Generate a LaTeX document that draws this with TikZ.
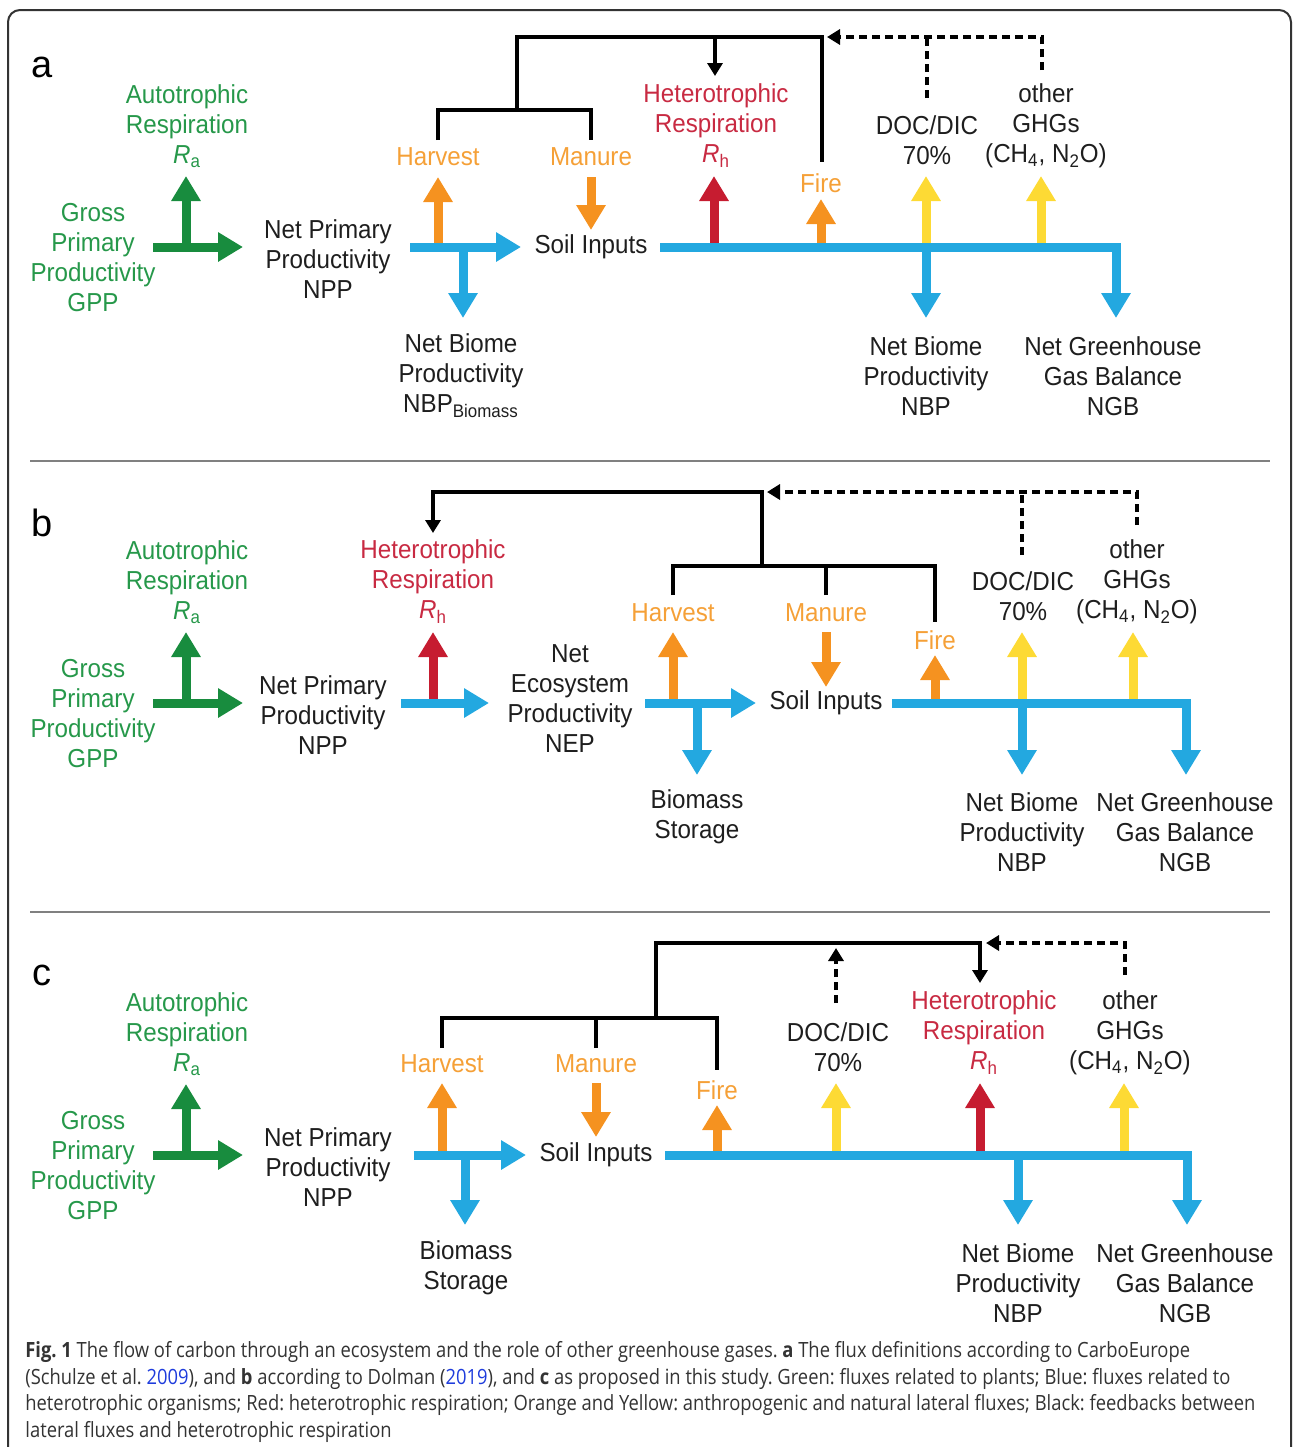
\documentclass[tikz,border=0pt]{standalone}
\usepackage{fontspec}
\setmainfont{Liberation Sans}
\newfontfamily\diagfont[FakeStretch=0.93]{Liberation Sans}
\newfontfamily\capfont[FakeStretch=0.875]{Open Sans}
\usetikzlibrary{arrows.meta}
\frenchspacing
\definecolor{plantgreen}{RGB}{24,140,62}
\definecolor{planttext}{RGB}{38,152,74}
\definecolor{fluxblue}{RGB}{35,168,224}
\definecolor{rhred}{RGB}{198,28,48}
\definecolor{rhtext}{RGB}{200,42,66}
\definecolor{latorange}{RGB}{245,146,32}
\definecolor{orangetext}{RGB}{245,160,55}
\definecolor{latyellow}{RGB}{253,218,52}
\definecolor{linkblue}{RGB}{30,60,220}
\definecolor{inktext}{RGB}{30,30,30}

\begin{document}
\begin{tikzpicture}[x=0.5pt,y=-0.5pt,
  lbl/.style={font=\diagfont\fontsize{13}{15}\selectfont, align=center, inner sep=0pt, text=inktext},
  flow/.style={line width=4.5pt, -{Triangle[length=12.5pt,width=14pt]}},
  fb/.style={line width=2pt, black},
  fbtip/.style={-{Triangle[length=6.5pt,width=7.5pt]}},
  fbdash/.style={dash pattern=on 4pt off 2.5pt},
  captext/.style={font=\capfont\fontsize{10.5}{12}\selectfont, text=black!80, inner sep=0pt, anchor=base west}]
\useasboundingbox (0,0) rectangle (1293,1447);
% Frame and separators
\draw[line width=1pt, black!80, rounded corners=6pt] (8,1447) -- (8,10) -- (1291,10) -- (1291,1447);
\draw[line width=1pt, black!50] (30,461) -- (1270,461);
\draw[line width=1pt, black!50] (30,912) -- (1270,912);
% Plant part, same in every panel
\foreach \p/\oy/\nx in {a/0/328,b/456/323,c/908/328} {
  \node[font=\fontsize{19}{21}\selectfont, inner sep=0pt] (\p-tag) at (42,67+\oy) {\p};
  \path (153,247+\oy) coordinate (\p-g0) (243,247+\oy) coordinate (\p-g1)
        (186,247+\oy) coordinate (\p-gc) (186,176+\oy) coordinate (\p-g2);
  \draw[flow,plantgreen] (\p-gc) -- (\p-g2);
  \draw[flow,plantgreen] (\p-g0) -- (\p-g1);
  \node[lbl,text=planttext] (\p-ra) at (187,126+\oy) {Autotrophic\\Respiration\\\textit{R}\textsubscript{a}};
  \node[lbl,text=planttext] (\p-gpp) at (93,258+\oy) {Gross\\Primary\\Productivity\\GPP};
  \node[lbl] (\p-npp) at (\nx,259+\oy) {Net Primary\\Productivity\\NPP};
}

% ---------- panel a ----------
\foreach \n/\x/\y/\c in {hv/438/177/latorange, rh/714/176/rhred, fi/821/199/latorange, doc/926/176/latyellow, gh/1041/176/latyellow} {
  \path (\x,247) coordinate (a-\n0) (\x,\y) coordinate (a-\n1);
  \draw[flow,\c] (a-\n0) -- (a-\n1);
}
\path (591,177) coordinate (a-ma0) (591,230) coordinate (a-ma1);
\draw[flow,latorange] (a-ma0) -- (a-ma1);
\path (410,247) coordinate (a-n0) (521,247) coordinate (a-n1)
      (463,247) coordinate (a-bm0) (463,318) coordinate (a-bm1)
      (660,247) coordinate (a-s0) (1116,247) coordinate (a-s1) (1116,318) coordinate (a-ngb)
      (926,247) coordinate (a-nbp0) (926,318) coordinate (a-nbp1);
\draw[flow,fluxblue] (a-n0) -- (a-n1);
\draw[flow,fluxblue] (a-bm0) -- (a-bm1);
\draw[flow,fluxblue] (a-s0) -- (a-s1) -- (a-ngb);
\draw[flow,fluxblue] (a-nbp0) -- (a-nbp1);
\node[lbl,text=orangetext] (a-hvl) at (438,157) {Harvest};
\node[lbl,text=orangetext] (a-mal) at (591,157) {Manure};
\node[lbl] (a-soil) at (591,247) {Soil Inputs};
\node[lbl,text=rhtext] (a-rhl) at (716,126) {Heterotrophic\\Respiration\\\textit{R}\textsubscript{h}};
\node[lbl,text=orangetext] (a-fil) at (821,183) {Fire};
\node[lbl] (a-docl) at (927,140) {DOC/DIC\\70\%};
\node[lbl] (a-ghl) at (1046,126) {other\\GHGs\\(CH\textsubscript{4}, N\textsubscript{2}O)};
\node[lbl] (a-nbpb) at (461,376) {Net Biome\\Productivity\\NBP\textsubscript{Biomass}};
\node[lbl] (a-nbpl) at (926,376) {Net Biome\\Productivity\\NBP};
\node[lbl] (a-ngbl) at (1113,376) {Net Greenhouse\\Gas Balance\\NGB};
% feedbacks
\path (438,140) coordinate (a-k1) (591,140) coordinate (a-k2) (517,110) coordinate (a-km)
      (517,37) coordinate (a-top) (822,162) coordinate (a-kf) (715,76) coordinate (a-kr)
      (1042,70) coordinate (a-kg) (927,98) coordinate (a-kd) (827,37) coordinate (a-dtip);
\draw[fb] (a-k1) -- (a-k1 |- a-km) -- (a-k2 |- a-km) -- (a-k2);
\draw[fb] (a-km) -- (a-top) -- (a-kf |- a-top) -- (a-kf);
\draw[fb,fbtip] (a-kr |- a-top) -- (a-kr);
\draw[fb,fbdash,fbtip] (a-kg) |- (a-dtip);
\draw[fb,fbdash] (a-kd) -- (a-kd |- a-dtip);

% ---------- panel b ----------
\foreach \n/\x/\y/\c in {rh/433/632/rhred, hv/673/632/latorange, fi/935/655/latorange, doc/1022/632/latyellow, gh/1133/632/latyellow} {
  \path (\x,703) coordinate (b-\n0) (\x,\y) coordinate (b-\n1);
  \draw[flow,\c] (b-\n0) -- (b-\n1);
}
\path (826,632) coordinate (b-ma0) (826,687) coordinate (b-ma1);
\draw[flow,latorange] (b-ma0) -- (b-ma1);
\path (401,703) coordinate (b-n0) (489,703) coordinate (b-n1)
      (645,703) coordinate (b-e0) (756,703) coordinate (b-e1)
      (697,703) coordinate (b-bm0) (697,775) coordinate (b-bm1)
      (892,703) coordinate (b-s0) (1186,703) coordinate (b-s1) (1186,775) coordinate (b-ngb)
      (1022,703) coordinate (b-nbp0) (1022,775) coordinate (b-nbp1);
\draw[flow,fluxblue] (b-n0) -- (b-n1);
\draw[flow,fluxblue] (b-e0) -- (b-e1);
\draw[flow,fluxblue] (b-bm0) -- (b-bm1);
\draw[flow,fluxblue] (b-s0) -- (b-s1) -- (b-ngb);
\draw[flow,fluxblue] (b-nbp0) -- (b-nbp1);
\node[lbl,text=rhtext] (b-rhl) at (433,582) {Heterotrophic\\Respiration\\\textit{R}\textsubscript{h}};
\node[lbl] (b-nep) at (570,699) {Net\\Ecosystem\\Productivity\\NEP};
\node[lbl,text=orangetext] (b-hvl) at (673,613) {Harvest};
\node[lbl,text=orangetext] (b-mal) at (826,613) {Manure};
\node[lbl] (b-soil) at (826,703) {Soil Inputs};
\node[lbl,text=orangetext] (b-fil) at (935,640) {Fire};
\node[lbl] (b-docl) at (1023,596) {DOC/DIC\\70\%};
\node[lbl] (b-ghl) at (1137,582) {other\\GHGs\\(CH\textsubscript{4}, N\textsubscript{2}O)};
\node[lbl] (b-bms) at (697,817) {Biomass\\Storage};
\node[lbl] (b-nbpl) at (1022,832) {Net Biome\\Productivity\\NBP};
\node[lbl] (b-ngbl) at (1185,832) {Net Greenhouse\\Gas Balance\\NGB};
% feedbacks
\path (673,595) coordinate (b-k1) (826,595) coordinate (b-k2) (762,566) coordinate (b-km)
      (762,492) coordinate (b-top) (935,622) coordinate (b-kf) (433,533) coordinate (b-kr)
      (1137,525) coordinate (b-kg) (1022,555) coordinate (b-kd) (767,492) coordinate (b-dtip);
\draw[fb] (b-k1) -- (b-k1 |- b-km) -- (b-kf |- b-km) -- (b-kf);
\draw[fb] (b-k2) -- (b-k2 |- b-km);
\draw[fb,fbtip] (b-km) -- (b-top) -- (b-kr |- b-top) -- (b-kr);
\draw[fb,fbdash,fbtip] (b-kg) |- (b-dtip);
\draw[fb,fbdash] (b-kd) -- (b-kd |- b-dtip);

% ---------- panel c ----------
\foreach \n/\x/\y/\c in {hv/442/1083/latorange, fi/717/1105/latorange, doc/836/1083/latyellow, rh/980/1083/rhred, gh/1124/1083/latyellow} {
  \path (\x,1155) coordinate (c-\n0) (\x,\y) coordinate (c-\n1);
  \draw[flow,\c] (c-\n0) -- (c-\n1);
}
\path (596,1083) coordinate (c-ma0) (596,1137) coordinate (c-ma1);
\draw[flow,latorange] (c-ma0) -- (c-ma1);
\path (414,1155) coordinate (c-n0) (526,1155) coordinate (c-n1)
      (465,1155) coordinate (c-bm0) (465,1225) coordinate (c-bm1)
      (665,1155) coordinate (c-s0) (1187,1155) coordinate (c-s1) (1187,1225) coordinate (c-ngb)
      (1018,1155) coordinate (c-nbp0) (1018,1225) coordinate (c-nbp1);
\draw[flow,fluxblue] (c-n0) -- (c-n1);
\draw[flow,fluxblue] (c-bm0) -- (c-bm1);
\draw[flow,fluxblue] (c-s0) -- (c-s1) -- (c-ngb);
\draw[flow,fluxblue] (c-nbp0) -- (c-nbp1);
\node[lbl,text=orangetext] (c-hvl) at (442,1064) {Harvest};
\node[lbl,text=orangetext] (c-mal) at (596,1064) {Manure};
\node[lbl] (c-soil) at (596,1155) {Soil Inputs};
\node[lbl,text=orangetext] (c-fil) at (717,1090) {Fire};
\node[lbl] (c-docl) at (838,1047) {DOC/DIC\\70\%};
\node[lbl,text=rhtext] (c-rhl) at (984,1033) {Heterotrophic\\Respiration\\\textit{R}\textsubscript{h}};
\node[lbl] (c-ghl) at (1130,1033) {other\\GHGs\\(CH\textsubscript{4}, N\textsubscript{2}O)};
\node[lbl] (c-bms) at (466,1268) {Biomass\\Storage};
\node[lbl] (c-nbpl) at (1018,1283) {Net Biome\\Productivity\\NBP};
\node[lbl] (c-ngbl) at (1185,1283) {Net Greenhouse\\Gas Balance\\NGB};
% feedbacks
\path (442,1048) coordinate (c-k1) (596,1048) coordinate (c-k2) (656,1018) coordinate (c-km)
      (656,943) coordinate (c-top) (717,1070) coordinate (c-kf) (980,983) coordinate (c-kr)
      (1125,975) coordinate (c-kg) (836,1003) coordinate (c-kd) (836,948) coordinate (c-kdt)
      (986,943) coordinate (c-dtip);
\draw[fb] (c-k1) -- (c-k1 |- c-km) -- (c-kf |- c-km) -- (c-kf);
\draw[fb] (c-k2) -- (c-k2 |- c-km);
\draw[fb,fbtip] (c-km) -- (c-top) -- (c-kr |- c-top) -- (c-kr);
\draw[fb,fbdash,fbtip] (c-kg) |- (c-dtip);
\draw[fb,fbdash,fbtip] (c-kd) -- (c-kdt);

% ---------- caption ----------
\node[captext] (cap1) at (25,1357) {\textbf{Fig. 1} The flow of carbon through an ecosystem and the role of other greenhouse gases. \textbf{a} The flux definitions according to CarboEurope};
\node[captext] (cap2) at (25,1384) {(Schulze et al. {\color{linkblue}2009}), and \textbf{b} according to Dolman ({\color{linkblue}2019}), and \textbf{c} as proposed in this study. Green: fluxes related to plants; Blue: fluxes related to};
\node[captext] (cap3) at (25,1410) {heterotrophic organisms; Red: heterotrophic respiration; Orange and Yellow: anthropogenic and natural lateral fluxes; Black: feedbacks between};
\node[captext] (cap4) at (25,1437) {lateral fluxes and heterotrophic respiration};
\end{tikzpicture}
\end{document}
